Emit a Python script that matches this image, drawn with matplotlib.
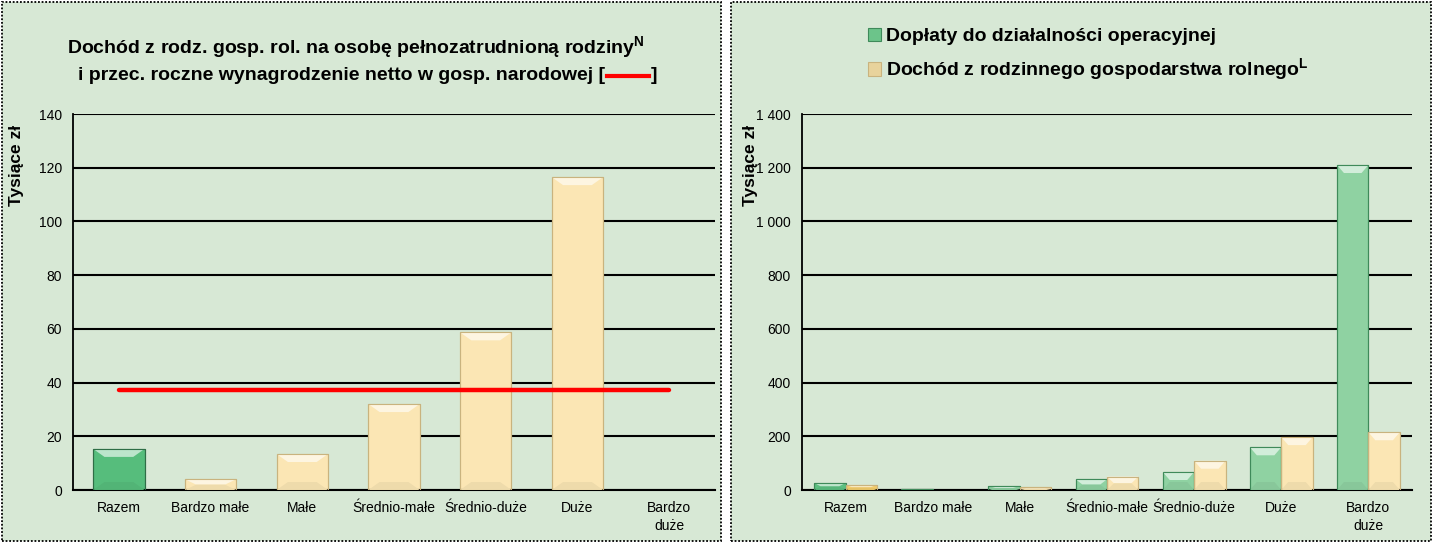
import numpy as np
import matplotlib
matplotlib.use("Agg")
import matplotlib.pyplot as plt
from matplotlib.patches import Rectangle, Polygon
from matplotlib.ticker import FuncFormatter
from matplotlib.colors import to_rgb

plt.rcParams['font.family'] = ['Liberation Sans', 'DejaVu Sans']
plt.rcParams['mathtext.fontset'] = 'custom'
plt.rcParams['mathtext.bf'] = 'Liberation Sans:bold'
plt.rcParams['mathtext.rm'] = 'Liberation Sans'

# data
categories = ['Razem', 'Bardzo małe', 'Małe', 'Średnio-małe', 'Średnio-duże', 'Duże', 'Bardzo\nduże']
income_per_person = [15.3, 4.0, 13.4, 32.0, 58.7, 116.5, 0.0]
net_wage = 37.2
subsidies = [26, 2, 15, 40, 67, 159, 1210]
farm_income = [19, 0, 11, 50, 109, 197, 215]

bg = '#d7e8d5'
beige = '#fbe6b4'
beige_edge = '#c9b37e'
green_dark = '#56bd7c'
green_light = '#8fd2a2'
green_edge = '#3f8a5a'

fig = plt.figure(figsize=(14.34, 5.44), dpi=100)
fig.patch.set_facecolor('white')

W, H = 1434., 544.
def fx(px): return px / W
def fy(py): return 1 - py / H

# panel backgrounds with dotted frames
for x0, x1 in [(2, 721), (731, 1431)]:
    fig.patches.append(Rectangle((fx(x0), fy(541)), fx(x1 - x0), (541 - 2) / H,
                                 transform=fig.transFigure, facecolor=bg, zorder=-5,
                                 edgecolor='black', linestyle=(0, (1, 1)), linewidth=1.3))

tick_fs = 10

def style_axes(ax, ymax, step):
    ax.set_facecolor('none')
    ax.set_ylim(0, ymax)
    ax.set_xlim(-0.5, 6.5)
    ax.set_yticks(np.arange(0, ymax + 1, step))
    ax.grid(axis='y', color='black', linewidth=1.5)
    ax.set_axisbelow(True)
    for s in ['top', 'right']:
        ax.spines[s].set_visible(False)
    ax.spines['left'].set_linewidth(1.3)
    ax.spines['bottom'].set_linewidth(1.5)
    ax.tick_params(length=0, labelsize=tick_fs, pad=8)
    ax.set_xticks(range(len(categories)))
    ax.set_xticklabels(categories, linespacing=1.35)


def bevel(ax, bars, ymax):
    # light top facet like the excel bevel
    px = ymax / 376.0
    for b in bars:
        h = b.get_height()
        if h <= 0:
            continue
        x0, w = b.get_x(), b.get_width()
        d = min(8 * px, h / 2)
        dx = w * 0.22
        c = np.array(to_rgb(b.get_facecolor()))
        light = c + (1 - c) * 0.6
        dark = c * 0.95
        ax.add_patch(Polygon([(x0, h), (x0 + w, h), (x0 + w - dx, h - d), (x0 + dx, h - d)],
                             closed=True, facecolor=light, edgecolor='none', zorder=3))
        ax.add_patch(Polygon([(x0, 0), (x0 + w, 0), (x0 + w - dx, min(d, h / 2)), (x0 + dx, min(d, h / 2))],
                             closed=True, facecolor=dark, edgecolor='none', zorder=3))
        ax.add_patch(Rectangle((x0, 0), w, h, facecolor='none', edgecolor=b.get_edgecolor(),
                               linewidth=0.8, zorder=3.5))


# left chart
ax1 = fig.add_axes([fx(73), fy(490), fx(715 - 73), (490 - 114) / H])
style_axes(ax1, 140, 20)
x = np.arange(len(categories))
colors = [green_dark] + [beige] * 6
edges = ['#2f6e46'] + [beige_edge] * 6
bars1 = ax1.bar(x, income_per_person, width=0.56, color=colors, edgecolor=edges, linewidth=0.8)
bevel(ax1, bars1, 140)
ax1.plot([0, 6], [net_wage, net_wage], color='#ff0000', linewidth=3.2,
         solid_capstyle='round', zorder=4)

# title of left chart
title_fs = 14
fig.text(fx(356), fy(48), r'Dochód z rodz. gosp. rol. na osobę pełnozatrudnioną rodziny$^{\mathbf{N}}$',
         ha='center', va='center', fontsize=title_fs, fontweight='bold')
t2 = fig.text(fx(78), fy(76), 'i przec. roczne wynagrodzenie netto w gosp. narodowej [',
              ha='left', va='center', fontsize=title_fs, fontweight='bold')
fig.canvas.draw()
bb = t2.get_window_extent()
xe = bb.x1 / W
fig.add_artist(plt.Line2D([xe + fx(2), xe + fx(44)], [fy(76), fy(76)], color='#ff0000',
                          linewidth=3, transform=fig.transFigure))
fig.text(xe + fx(46), fy(76), ']', ha='left', va='center', fontsize=title_fs, fontweight='bold')

fig.text(fx(17), fy(165), 'Tysiące zł', rotation=90, ha='center', va='center',
         fontsize=12.5, fontweight='bold')

# right chart
ax2 = fig.add_axes([fx(802), fy(490), fx(1412 - 802), (490 - 114) / H])
style_axes(ax2, 1400, 200)
ax2.yaxis.set_major_formatter(FuncFormatter(lambda v, p: f'{int(v):,}'.replace(',', ' ')))
bw = 0.36
scol = ['#5cbf80'] + [green_light] * 6
bars2 = ax2.bar(x - bw / 2, subsidies, width=bw, color=scol, edgecolor=green_edge, linewidth=0.8,
                label='Dopłaty do działalności operacyjnej')
fcol = ['#f2cc6a'] + [beige] * 6
bars3 = ax2.bar(x + bw / 2, farm_income, width=bw, color=fcol, edgecolor=beige_edge, linewidth=0.8,
                label=r'Dochód z rodzinnego gospodarstwa rolnego$^{\mathbf{L}}$')
bevel(ax2, bars2, 1400)
bevel(ax2, bars3, 1400)

fig.text(fx(750), fy(165), 'Tysiące zł', rotation=90, ha='center', va='center',
         fontsize=12.5, fontweight='bold')

h1 = Rectangle((0, 0), 1, 1, facecolor='#6cc48a', edgecolor=green_edge, linewidth=0.8)
h2 = Rectangle((0, 0), 1, 1, facecolor='#e8d39c', edgecolor=beige_edge, linewidth=0.8)
labels = [bars2.get_label(), bars3.get_label()]
leg = fig.legend([h1, h2], labels, loc='upper left',
                 bbox_to_anchor=(fx(860), fy(20)), frameon=False,
                 prop={'weight': 'bold', 'size': 14}, handlelength=0.7, handleheight=0.7,
                 handletextpad=0.25, labelspacing=0.55, borderaxespad=0)

fig.savefig('out.png', dpi=100, facecolor=fig.get_facecolor())
